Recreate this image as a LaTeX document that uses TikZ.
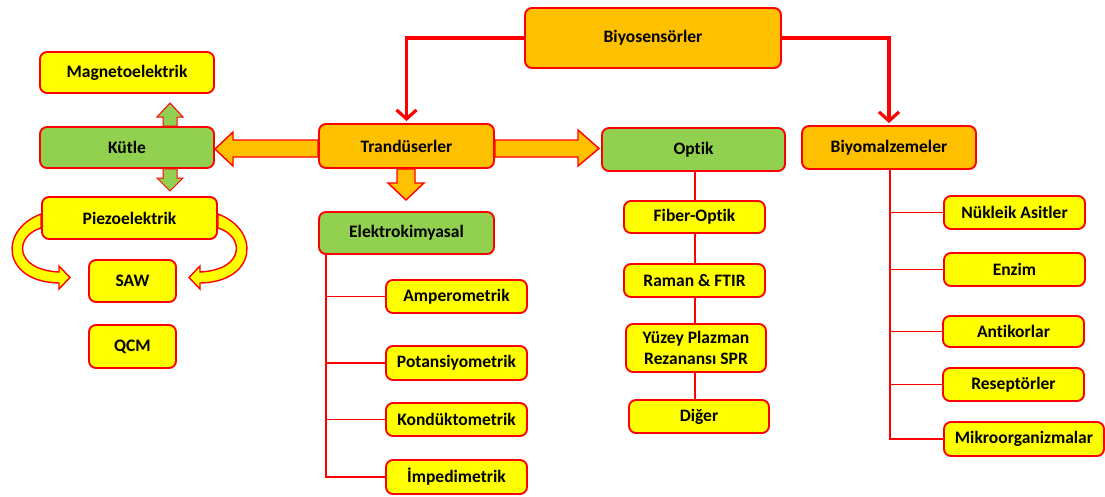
\documentclass[tikz,border=0pt]{standalone}
\usepackage{fontspec}
\setmainfont{Carlito}[Ligatures={NoCommon}]
\usetikzlibrary{arrows.meta,calc,backgrounds}
\definecolor{cOr}{HTML}{FFC000}
\definecolor{cGr}{HTML}{92D050}
\definecolor{cYe}{HTML}{FFFF00}
\definecolor{cRd}{HTML}{FF0000}
\tikzset{
  box/.style={draw=cRd, line width=1.9pt, rounded corners=7pt, inner sep=0pt, align=center,
    font=\bfseries\fontsize{17.5}{21}\selectfont, text=black},
  obox/.style={box, fill=cOr},
  gbox/.style={box, fill=cGr},
  ybox/.style={box, fill=cYe},
  conn/.style={draw=cRd, line width=1.9pt},
  bigarr/.style={draw=cRd, line width=3.2pt, -{Straight Barb[length=9pt,width=20pt,line width=3.2pt]}},
  blockO/.style={draw=cRd, line width=1.4pt, fill=cOr, line join=miter},
  blockG/.style={draw=cRd, line width=1pt, fill=cGr, line join=miter},
  blockY/.style={draw=cRd, line width=1.4pt, fill=cYe, line join=miter},
}
\begin{document}
\begin{tikzpicture}[x=1pt,y=-1pt]
\useasboundingbox (0,0) rectangle (1105,496);
% nodes
\node[obox, minimum width=256pt, minimum height=60pt] (bio) at (653,38) {Biyosensörler};
\node[ybox, minimum width=174pt, minimum height=41pt] (mag) at (127,72.5) {Magnetoelektrik};
\node[gbox, minimum width=174pt, minimum height=41pt] (kut) at (127,147.5) {Kütle};
\node[ybox, minimum width=175pt, minimum height=42pt] (pie) at (129.5,218) {Piezoelektrik};
\node[ybox, minimum width=87pt, minimum height=42pt] (saw) at (132.5,281) {SAW};
\node[ybox, minimum width=87pt, minimum height=43pt] (qcm) at (132.5,346.5) {QCM};
\node[obox, minimum width=175pt, minimum height=44pt] (tra) at (406.5,146) {Trandüserler};
\node[gbox, minimum width=175pt, minimum height=42pt] (ele) at (406.5,233) {Elektrokimyasal};
\node[ybox, minimum width=141pt, minimum height=33pt] (amp) at (456.5,296.5) {Amperometrik};
\node[ybox, minimum width=141pt, minimum height=34pt] (pot) at (456.5,363) {Potansiyometrik};
\node[ybox, minimum width=141pt, minimum height=33pt] (kon) at (456.5,419.5) {Kondüktometrik};
\node[ybox, minimum width=141pt, minimum height=34pt] (imp) at (456.5,477) {İmpedimetrik};
\node[gbox, minimum width=183pt, minimum height=43pt] (opt) at (693.5,149.5) {Optik};
\node[ybox, minimum width=141pt, minimum height=32pt] (fib) at (694.5,217) {Fiber-Optik};
\node[ybox, minimum width=141pt, minimum height=33pt] (ram) at (694.5,280.5) {Raman \& FTIR};
\node[ybox, minimum width=140pt, minimum height=48pt] (yuz) at (696,348) {Yüzey Plazman\\Rezanansı SPR};
\node[ybox, minimum width=140pt, minimum height=33pt] (dig) at (699,416.5) {Diğer};
\node[obox, minimum width=174pt, minimum height=43pt] (bmz) at (889,147.5) {Biyomalzemeler};
\node[ybox, minimum width=141pt, minimum height=33pt] (nuk) at (1014.5,212.5) {Nükleik Asitler};
\node[ybox, minimum width=141pt, minimum height=33pt] (enz) at (1014.5,269.5) {Enzim};
\node[ybox, minimum width=141pt, minimum height=31pt] (ant) at (1013.5,331.5) {Antikorlar};
\node[ybox, minimum width=141pt, minimum height=33pt] (res) at (1013.5,384.5) {Reseptörler};
\node[ybox, minimum width=160pt, minimum height=34pt] (mik) at (1024,439) {Mikroorganizmalar};
% top connectors
\draw[bigarr] (bio.west) -| ($(tra.north)+(0,-2)$);
\draw[bigarr] (bio.east) -| ($(bmz.north)+(0,-2)$);
% trees
\begin{pgfonlayer}{background}
\draw[conn] (opt.south -| 695,0) -- (dig.north -| 695,0);
\end{pgfonlayer}
\coordinate (et) at (326,254);
\draw[conn] (et) |- (imp.west);
\draw[conn] (et |- amp.west) -- (amp.west);
\draw[conn] (et |- pot.west) -- (pot.west);
\draw[conn] (et |- kon.west) -- (kon.west);
\coordinate (bt) at (890,169);
\draw[conn] (bt) |- (mik.west);
\draw[conn] (bt |- nuk.west) -- (nuk.west);
\draw[conn] (bt |- enz.west) -- (enz.west);
\draw[conn] (bt |- ant.west) -- (ant.west);
\draw[conn] (bt |- res.west) -- (res.west);
% block arrows from Trandüserler
\draw[blockO] (tra.east |- 0,140) -- (578,140) -- (578,130) -- (599,148.5) -- (578,166) -- (578,157) -- (tra.east |- 0,157) -- cycle;
\draw[blockO] (tra.west |- 0,140) -- (233,140) -- (233,132) -- (kut.east |- 0,149) -- (233,166) -- (233,157) -- (tra.west |- 0,157) -- cycle;
\draw[blockO] (397,0 |- tra.south) -- (397,183) -- (388,183) -- (406,200) -- (424,183) -- (415,183) -- (415,0 |- tra.south) -- cycle;
% green arrows from Kütle
\draw[blockG] (163,0 |- kut.north) -- (163,117) -- (157,117) -- (170,103) -- (183,117) -- (177,117) -- (177,0 |- kut.north) -- cycle;
\draw[blockG] (163,0 |- kut.south) -- (163,178) -- (157,178) -- (170,191) -- (183,178) -- (177,178) -- (177,0 |- kut.south) -- cycle;
% curved yellow arrows from Piezoelektrik
\draw[blockY] (pie.west |- 0,214) .. controls (-2,230) and (2,282) .. (59,283) -- (59,289) -- (70,277.5) -- (59,266) -- (59,272) .. controls (14,270) and (14,236) .. (pie.west |- 0,228) -- cycle;
\draw[blockY] (pie.east |- 0,214) .. controls (261,230) and (257,282) .. (200,283) -- (200,289) -- (189,277.5) -- (200,266) -- (200,272) .. controls (245,270) and (245,236) .. (pie.east |- 0,228) -- cycle;
\end{tikzpicture}
\end{document}
